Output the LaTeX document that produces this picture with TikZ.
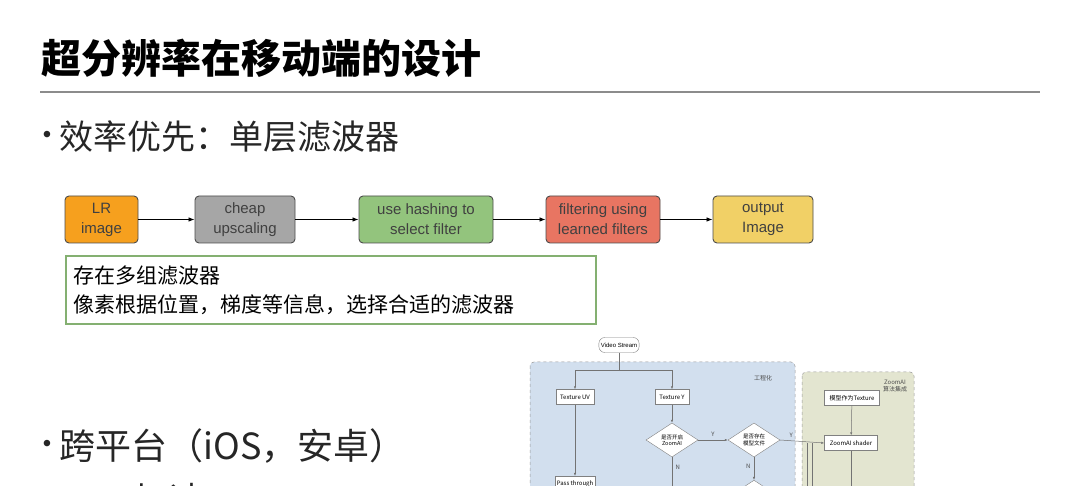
\documentclass[tikz,border=0pt]{standalone}
\usepackage{fontspec}
\setmainfont{Liberation Sans}
\newfontfamily\cjk{Noto Sans CJK SC}
\usetikzlibrary{arrows.meta,shapes.geometric}
\definecolor{orangef}{HTML}{F6A01E}
\definecolor{grayf}{HTML}{A6A6A6}
\definecolor{greenf}{HTML}{93C47D}
\definecolor{redf}{HTML}{E87562}
\definecolor{yellowf}{HTML}{F1D066}
\definecolor{blueb}{HTML}{D2DFEE}
\definecolor{greenb}{HTML}{E3E5D0}
\begin{document}
\begin{tikzpicture}[x=1pt,y=-1pt,
 pbox/.style={draw=black!70,line width=0.9pt,rounded corners=4pt,minimum height=47pt,align=center,font=\fontsize{15}{20}\selectfont,text=black!75},
 par/.style={-{Latex[length=6pt]},line width=0.8pt},
 fbox/.style={draw=black!50,fill=white,line width=0.4pt,minimum height=15pt,font=\fontsize{6}{7}\selectfont\cjk,inner sep=1pt},
 fdia/.style={draw=black!50,fill=white,diamond,aspect=1.6,inner sep=0pt,minimum width=52pt,minimum height=34pt,align=center,font=\fontsize{5.5}{6.5}\selectfont\cjk},
 far/.style={-{Latex[length=3pt]},draw=black!55,line width=0.5pt},
 lab/.style={font=\fontsize{6}{7}\selectfont\cjk,text=black!70},
 bul/.style={font=\fontsize{24}{26}\selectfont,text=black!85}]
\useasboundingbox[fill=white] (0,0) rectangle (1080,486);
\node[anchor=west,font=\fontsize{40}{44}\selectfont\cjk\bfseries] (title) at (38,58) {超分辨率在移动端的设计};
\draw[black!45,line width=1.2pt] (40,92) -- (1040,92);
\node[bul] (bu1) at (47,137) {•};
\node[anchor=west,font=\fontsize{34}{38}\selectfont\cjk,text=black!85] (b1) at (56,137) {效率优先：单层滤波器};
\node[pbox,fill=orangef,minimum width=73pt] (lr) at (101.5,219.5) {LR\\image};
\node[pbox,fill=grayf,minimum width=100pt] (cu) at (245,219.5) {cheap\\upscaling};
\node[pbox,fill=greenf,minimum width=134pt] (uh) at (426,219.5) {use hashing to\\select filter};
\node[pbox,fill=redf,minimum width=114pt] (fl) at (603,219.5) {filtering using\\learned filters};
\node[pbox,fill=yellowf,minimum width=100pt] (out) at (763,219.5) {output\\Image};
\draw[par] (lr) -- (cu); \draw[par] (cu) -- (uh); \draw[par] (uh) -- (fl); \draw[par] (fl) -- (out);
\node[draw=greenf!90!black,line width=2pt,minimum width=530pt,minimum height=68pt,anchor=north west,align=left,text width=515pt,font=\fontsize{21}{29}\selectfont\cjk] (note) at (65,255) {存在多组滤波器\\像素根据位置，梯度等信息，选择合适的滤波器};
\node[bul] (bu2) at (47,446) {•};
\node[anchor=west,font=\fontsize{36}{40}\selectfont\cjk,text=black!85] (b2) at (56,446) {跨平台（iOS，安卓）};
\node[bul] (bu3) at (47,500) {•};
\node[anchor=west,font=\fontsize{36}{40}\selectfont\cjk,text=black!85] (b3) at (56,500) {GPU加速};
% flowchart
\fill[blueb,draw=black!40,dashed,rounded corners=4pt,line width=0.5pt] (530,362) rectangle (795,500);
\fill[greenb,draw=black!40,dashed,rounded corners=4pt,line width=0.5pt] (802,372) rectangle (914,500);
\node[draw=black!50,fill=white,rounded corners=6pt,font=\fontsize{6}{7}\selectfont,inner sep=2pt,minimum height=15pt] (vs) at (619,345) {Video Stream};
\node[lab] (gc) at (763,378) {工程化};
\node[lab,align=center] (za) at (895,386) {ZoomAI\\算法集成};
\node[fbox,minimum width=38pt] (tuv) at (575,397) {Texture UV};
\node[fbox,minimum width=34pt] (ty) at (672,397) {Texture Y};
\node[fdia] (d1) at (672,440) {是否开启\\ZoomAI};
\node[fdia] (d2) at (754,440) {是否存在\\模型文件};
\node[fbox,minimum width=55pt] (mt) at (852,398) {模型作为Texture};
\node[fbox,minimum width=53pt] (zs) at (851,443) {ZoomAI shader};
\node[fbox,minimum width=40pt,anchor=north] (pt) at (575,476) {Pass through};
\node[fdia,anchor=north] (d3) at (754,480) {};
\coordinate (split) at (619,370);
\draw[black!55,line width=0.5pt] (vs) -- (split);
\draw[far] (split) -| (tuv.north);
\draw[far] (split) -| (ty.north);
\draw[far] (tuv) -- (pt);
\draw[far] (ty) -- (d1);
\draw[far] (d1) -- node[lab,above]{Y} (d2);
\draw[far] (d2.east) -- node[lab,above,pos=0.25]{Y} (zs.west);
\draw[far] (mt) -- (zs);
\coordinate (d1b) at (672,492);
\draw[far] (d1.south) -- node[lab,right,pos=0.3]{N} (d1b);
\draw[far] (d2.south) -- node[lab,left,pos=0.4]{N} (d3.north);
\coordinate (zsb) at (851,490);
\draw[far] (zs) -- (zsb);
\coordinate (v1t) at (807,443); \coordinate (v1b) at (807,490);
\coordinate (v2t) at (812,443); \coordinate (v2b) at (812,490);
\draw[black!55,line width=0.5pt] (v1t) -- (v1b);
\draw[black!55,line width=0.5pt] (v2t) -- (v2b);
\end{tikzpicture}
\end{document}
